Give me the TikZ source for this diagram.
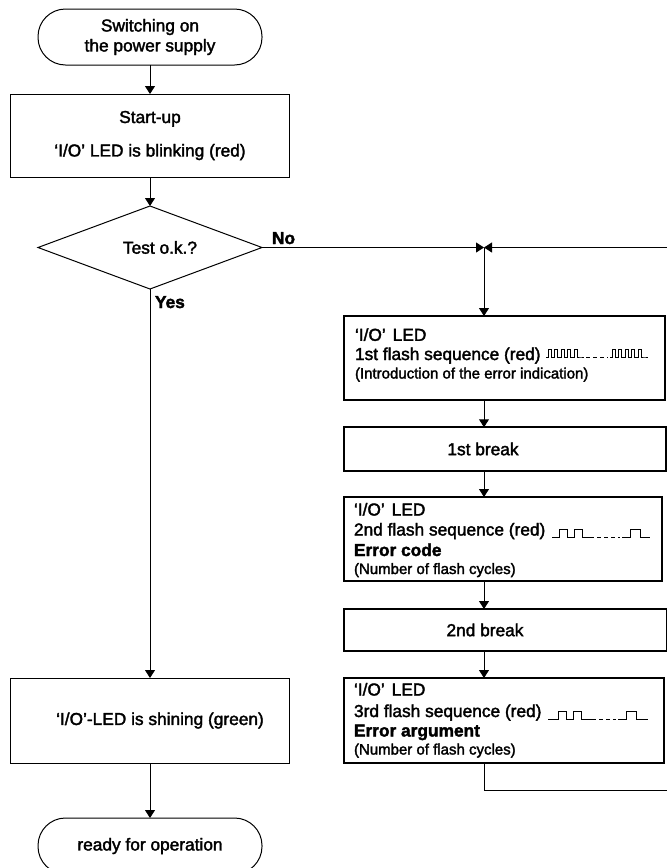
\documentclass[tikz,border=0pt]{standalone}
\usepackage{fontspec}
\setmainfont{Liberation Sans}[FakeBold=2]
\usetikzlibrary{shapes.geometric,arrows.meta}
\begin{document}
\begin{tikzpicture}[x=1pt,y=-1pt,
  every node/.style={inner sep=0pt,outer sep=0pt,font=\fontsize{17.3}{20}\selectfont},
  term/.style={draw,line width=1pt,rounded corners=27.5pt,minimum width=224pt,minimum height=56pt,align=center},
  lbox/.style={draw,line width=1pt,minimum width=279pt,align=center},
  rbox/.style={draw,line width=2pt},
  smalltxt/.style={font=\fontsize{15}{17}\selectfont},
  boldtxt/.style={font=\fontsize{17.3}{20}\selectfont\bfseries},
  conn/.style={line width=1pt},
  arr/.style={conn,-{Triangle[length=8pt,width=10pt]}},
  pat/.style={line width=1pt},
  patdash/.style={line width=1pt,dash pattern=on 4pt off 3pt},
]
\useasboundingbox (0,0) rectangle (667,868);

% ---------- left column ----------
\node[term] (t1) at (150,37) {Switching on\\the power supply};
\node[lbox,minimum height=83pt,font=\fontsize{17.3}{33.5}\selectfont] (b1) at (150,135.5)
  {Start-up\\‘I/O’ LED is blinking (red)};
\node[diamond,draw,line width=1pt,minimum width=224pt,minimum height=83pt] (d) at (150,247.5) {};
\node (dt) at (160,247.5) {Test o.k.?};
\node[boldtxt,anchor=base west] (no) at (272,244) {No};
\node[boldtxt,anchor=base west] (yes) at (155,308) {Yes};
\node[lbox,minimum height=85pt] (b2) at (150,720.5) {\hspace*{20pt}‘I/O’-LED is shining (green)};
\node[term] (t2) at (150,846) {ready for operation};

% ---------- right column ----------
\coordinate (J) at (484,247.5);

\node[rbox,minimum width=321pt,minimum height=84pt] (r1) at (504.5,358) {};
\node[anchor=base west] (r1a) at (355,340.8) {‘I/O’\hspace{7pt}LED};
\node[anchor=base west] (r1b) at (355,360) {1st flash sequence (red)};
\node[smalltxt,anchor=base west] (r1c) at (355,378.5) {(Introduction of the error indication)};

\node[rbox,minimum width=322pt,minimum height=43.5pt] (r2) at (505,449) {};
\node (r2t) at (483,449) {1st break};

\node[rbox,minimum width=317.5pt,minimum height=84pt] (r3) at (502.75,539) {};
\node[anchor=base west] (r3a) at (354,515.5) {‘I/O’\hspace{7pt}LED};
\node[anchor=base west] (r3b) at (354,535.5) {2nd flash sequence (red)};
\node[boldtxt,anchor=base west] (r3c) at (354,556) {Error code};
\node[smalltxt,anchor=base west] (r3d) at (354,574) {(Number of flash cycles)};

\node[rbox,minimum width=323pt,minimum height=41.5pt] (r4) at (505.5,629.75) {};
\node (r4t) at (485,630) {2nd break};

\node[rbox,minimum width=319.6pt,minimum height=85pt] (r5) at (503.8,720.5) {};
\node[anchor=base west] (r5a) at (354,695.5) {‘I/O’\hspace{7pt}LED};
\node[anchor=base west] (r5b) at (354,717) {3rd flash sequence (red)};
\node[boldtxt,anchor=base west] (r5c) at (354,736.5) {Error argument};
\node[smalltxt,anchor=base west] (r5d) at (354,754.5) {(Number of flash cycles)};

% ---------- flash patterns ----------
% box 1: pulse trains
\draw[pat] (546,357) -- ++(2,0) \foreach \i in {1,...,5} { -- ++(0,-7.5) -- ++(3,0) -- ++(0,7.5) -- ++(3.5,0) } -- ++(3,0);
\draw[patdash] (586,357) -- (608,357);
\draw[pat] (610,357) -- ++(2,0) \foreach \i in {1,...,5} { -- ++(0,-7.5) -- ++(3,0) -- ++(0,7.5) -- ++(3.5,0) } -- ++(3,0);
% box 3
\draw[pat] (552,537.5) -- ++(7,0) -- ++(0,-8) -- ++(8,0) -- ++(0,8) -- ++(7,0) -- ++(0,-8) -- ++(8,0) -- ++(0,8) -- ++(12,0);
\draw[patdash] (597,537.5) -- (620,537.5);
\draw[pat] (622,537.5) -- ++(8,0) -- ++(0,-8) -- ++(10,0) -- ++(0,8) -- ++(10,0);
% box 5
\draw[pat] (548,719.5) -- ++(10,0) -- ++(0,-8) -- ++(8,0) -- ++(0,8) -- ++(7,0) -- ++(0,-8) -- ++(8,0) -- ++(0,8) -- ++(15,0);
\draw[patdash] (599,719.5) -- (616,719.5);
\draw[pat] (618,719.5) -- ++(8,0) -- ++(0,-8) -- ++(10,0) -- ++(0,8) -- ++(12,0);

% ---------- connectors ----------
\draw[arr] (t1.south) -- (b1.north);
\draw[arr] (b1.south) -- (d.north);
\draw[arr] (d.south) -- (b2.north);
\draw[arr] (b2.south) -- (t2.north);
\draw[arr] (d.east) -- (J);
\draw[arr] (J) -- (J |- r1.north);
\draw[arr] (J |- r1.south) -- (J |- r2.north);
\draw[arr] (J |- r2.south) -- (J |- r3.north);
\draw[arr] (J |- r3.south) -- (J |- r4.north);
\draw[arr] (J |- r4.south) -- (J |- r5.north);
\coordinate (L1) at (484,790);
\coordinate (L2) at (669,790);
\coordinate (L3) at (669,247.5);
\draw[arr] (J |- r5.south) -- (L1) -- (L2) -- (L3) -- (J);
\end{tikzpicture}
\end{document}
